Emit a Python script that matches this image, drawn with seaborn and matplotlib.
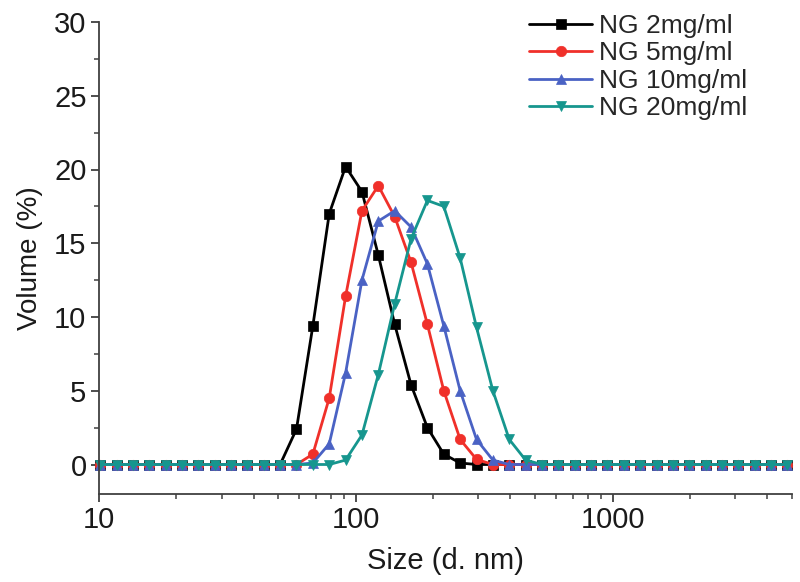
import numpy as np
import pandas as pd
import matplotlib
matplotlib.use("Agg")
import matplotlib.pyplot as plt
import matplotlib.ticker as mticker
import seaborn as sns

# DLS size bins (d. nm)
sizes = [10.10, 11.70, 13.54, 15.69, 18.17, 21.04, 24.36, 28.21, 32.67, 37.84,
         43.82, 50.75, 58.77, 68.06, 78.82, 91.28, 105.7, 122.4, 141.8, 164.2,
         190.1, 220.2, 255.0, 295.3, 342.0, 396.1, 458.7, 531.2, 615.1, 712.4,
         825.0, 955.4, 1106, 1281, 1484, 1718, 1990, 2305, 2669, 3091,
         3580, 4145, 4801]

# volume (%) per bin
ng2 = [0, 0, 0, 0, 0, 0, 0, 0, 0, 0,
       0, 0, 2.4, 9.4, 17.0, 20.2, 18.5, 14.2, 9.5, 5.4,
       2.5, 0.7, 0.1, 0, 0, 0, 0, 0, 0, 0,
       0, 0, 0, 0, 0, 0, 0, 0, 0, 0,
       0, 0, 0]
ng5 = [0, 0, 0, 0, 0, 0, 0, 0, 0, 0,
       0, 0, 0, 0.7, 4.5, 11.4, 17.2, 18.9, 16.8, 13.7,
       9.5, 5.0, 1.7, 0.35, 0, 0, 0, 0, 0, 0,
       0, 0, 0, 0, 0, 0, 0, 0, 0, 0,
       0, 0, 0]
ng10 = [0, 0, 0, 0, 0, 0, 0, 0, 0, 0,
        0, 0, 0, 0.1, 1.4, 6.2, 12.5, 16.5, 17.2, 16.1,
        13.6, 9.4, 5.0, 1.7, 0.3, 0, 0, 0, 0, 0,
        0, 0, 0, 0, 0, 0, 0, 0, 0, 0,
        0, 0, 0]
ng20 = [0, 0, 0, 0, 0, 0, 0, 0, 0, 0,
        0, 0, 0, 0, 0, 0.3, 2.0, 6.1, 10.9, 15.3,
        17.9, 17.5, 14.0, 9.3, 5.0, 1.7, 0.3, 0, 0, 0,
        0, 0, 0, 0, 0, 0, 0, 0, 0, 0,
        0, 0, 0]

labels = ["NG 2mg/ml", "NG 5mg/ml", "NG 10mg/ml", "NG 20mg/ml"]
colors = ["#000000", "#f0302a", "#4a62c4", "#16968e"]
markers = ["s", "o", "^", "v"]

sns.set_theme(style="ticks")
plt.rcParams['font.family'] = ['Liberation Sans', 'DejaVu Sans']

fig = plt.figure(figsize=(8, 5.82), dpi=100)
ax = fig.add_axes([99 / 800, 1 - 494 / 582, (792 - 99) / 800, (494 - 22) / 582])

for lab, vals, c, m in zip(labels, [ng2, ng5, ng10, ng20], colors, markers):
    df = pd.DataFrame({"size": sizes, "volume": vals})
    sns.lineplot(data=df, x="size", y="volume", ax=ax, color=c, marker=m,
                 markersize=7.5, markeredgecolor=c, markeredgewidth=0.5,
                 linewidth=2.0, label=lab, clip_on=False)

ax.set_xscale("log")
ax.set_xlim(10, 5000)
ax.set_ylim(-2, 30)
ax.set_yticks([0, 5, 10, 15, 20, 25, 30])
ax.yaxis.set_minor_locator(mticker.MultipleLocator(2.5))
ax.xaxis.set_major_locator(mticker.FixedLocator([10, 100, 1000]))
ax.xaxis.set_major_formatter(mticker.FixedFormatter(["10", "100", "1000"]))
ax.xaxis.set_minor_locator(mticker.LogLocator(base=10, subs=np.arange(2, 10)))
ax.xaxis.set_minor_formatter(mticker.NullFormatter())

sns.despine(ax=ax)
for sp in ["left", "bottom"]:
    ax.spines[sp].set_color("#404040")
    ax.spines[sp].set_linewidth(1.3)
ax.tick_params(which="major", direction="out", length=6, width=1.3,
               color="#404040", labelsize=21, labelcolor="#1a1a1a", pad=3)
ax.tick_params(which="minor", direction="out", length=3.5, width=1.1,
               color="#404040")

ax.set_xlabel("Size (d. nm)", fontsize=21, color="#1a1a1a", labelpad=9)
ax.set_ylabel("Volume (%)", fontsize=20, color="#1a1a1a", labelpad=8)

leg = ax.legend(loc="upper left", bbox_to_anchor=(529 / 800, 1 - 14 / 582),
                bbox_transform=fig.transFigure, frameon=False, fontsize=19,
                handlelength=2.4, handletextpad=0.25, labelspacing=0.13,
                borderpad=0, borderaxespad=0, numpoints=1)

fig.savefig("out.png", dpi=100)
